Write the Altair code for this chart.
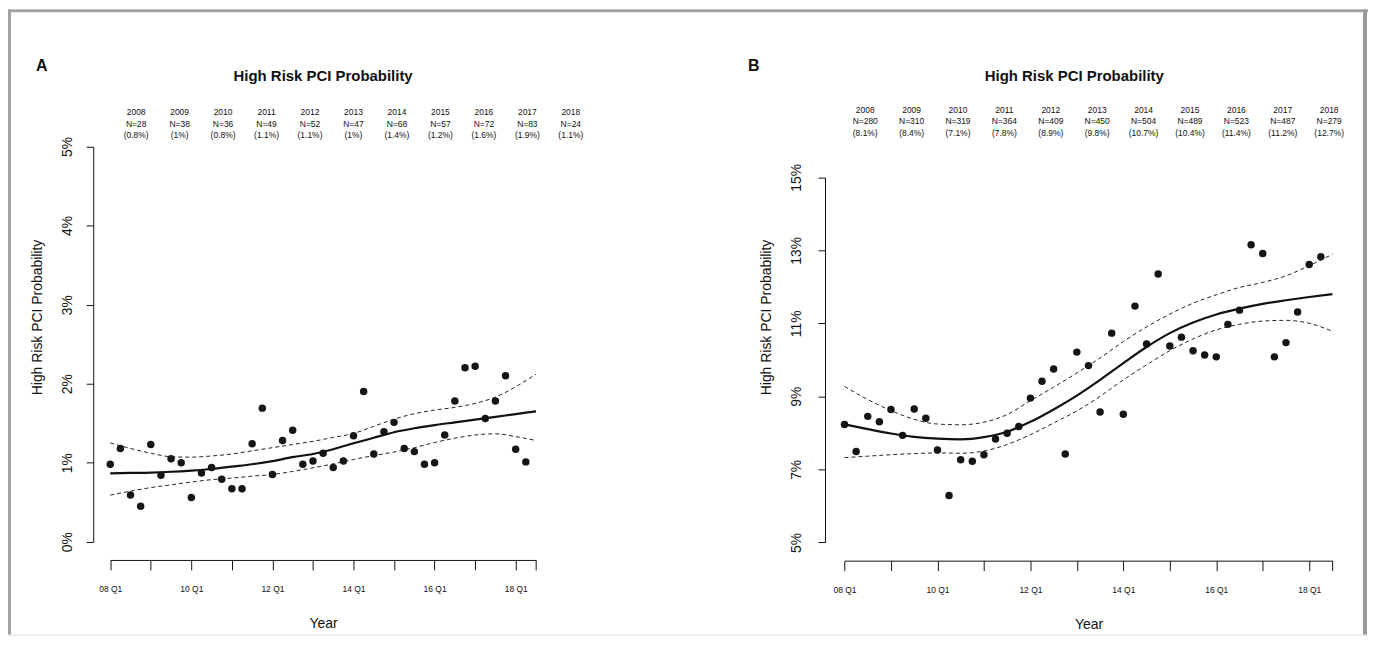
import altair as alt
import pandas as pd

FONT = "Liberation Sans"

# ---------------- data ----------------
quarters = list(range(42))  # 0 = 2008 Q1 ... 41 = 2018 Q2
a_obs = [0.98, 1.18, 0.59, 0.45, 1.23, 0.84, 1.05, 1.00, 0.56, 0.87, 0.94, 0.79,
         0.67, 0.67, 1.24, 1.69, 0.85, 1.28, 1.41, 0.98, 1.02, 1.12, 0.94, 1.02,
         1.34, 1.90, 1.11, 1.39, 1.51, 1.18, 1.14, 0.98, 1.00, 1.35, 1.78, 2.20,
         2.22, 1.56, 1.78, 2.10, 1.17, 1.01]
b_obs = [8.23, 7.49, 8.45, 8.30, 8.64, 7.93, 8.65, 8.40, 7.53, 6.28, 7.26, 7.22,
         7.40, 7.83, 7.99, 8.17, 8.95, 9.41, 9.75, 7.42, 10.21, 9.84, 8.57, 10.73,
         8.51, 11.47, 10.43, 12.35, 10.38, 10.62, 10.25, 10.13, 10.08, 10.97, 11.36, 13.15,
         12.91, 10.08, 10.47, 11.31, 12.61, 12.82]

q_fit = list(range(0, 43, 2))
a_fit = [0.865, 0.87, 0.875, 0.885, 0.90, 0.92, 0.95, 0.98, 1.02, 1.07, 1.11,
         1.17, 1.245, 1.315, 1.385, 1.435, 1.475, 1.51, 1.545, 1.58, 1.615, 1.65]
a_upper = [1.25, 1.18, 1.12, 1.075, 1.07, 1.085, 1.11, 1.15, 1.19, 1.23, 1.27,
           1.32, 1.37, 1.46, 1.55, 1.62, 1.665, 1.70, 1.75, 1.83, 1.96, 2.12]
a_lower = [0.59, 0.64, 0.685, 0.72, 0.755, 0.785, 0.805, 0.83, 0.85, 0.89, 0.935,
           0.985, 1.04, 1.09, 1.135, 1.19, 1.255, 1.31, 1.35, 1.365, 1.33, 1.28]
b_fit = [8.23, 8.10, 7.98, 7.89, 7.84, 7.82, 7.88, 8.03, 8.30, 8.64, 9.02,
         9.45, 9.91, 10.35, 10.73, 11.02, 11.24, 11.40, 11.53, 11.63, 11.72, 11.80]
b_upper = [9.27, 8.91, 8.61, 8.37, 8.24, 8.22, 8.29, 8.50, 8.88, 9.25, 9.64,
           10.05, 10.50, 10.90, 11.25, 11.55, 11.78, 11.98, 12.12, 12.30, 12.58, 12.89]
b_lower = [7.32, 7.36, 7.40, 7.43, 7.45, 7.44, 7.50, 7.68, 7.95, 8.27, 8.60,
           9.00, 9.45, 9.86, 10.25, 10.57, 10.82, 10.97, 11.06, 11.08, 11.00, 10.78]

years = [2008, 2009, 2010, 2011, 2012, 2013, 2014, 2015, 2016, 2017, 2018]
a_n = [28, 38, 36, 49, 52, 47, 68, 57, 72, 83, 24]
a_pct = ["0.8", "1", "0.8", "1.1", "1.1", "1", "1.4", "1.2", "1.6", "1.9", "1.1"]
b_n = [280, 310, 319, 364, 409, 450, 504, 489, 523, 487, 279]
b_pct = ["8.1", "8.4", "7.1", "7.8", "8.9", "9.8", "10.7", "10.4", "11.4", "11.2", "12.7"]

x_tick_values = [0, 4, 8, 12, 16, 20, 24, 28, 32, 36, 40, 42]
x_label_values = [0, 8, 16, 24, 32, 40]
x_tick_labels = ["08 Q1", "10 Q1", "12 Q1", "14 Q1", "16 Q1", "18 Q1"]
a_y_values = [0, 1, 2, 3, 4, 5]
a_y_labels = ["0%", "1%", "2%", "3%", "4%", "5%"]
b_y_values = [5, 7, 9, 11, 13, 15]
b_y_labels = ["5%", "7%", "9%", "11%", "13%", "15%"]

main_title = "High Risk PCI Probability"
y_title = "High Risk PCI Probability"
x_title = "Year"
panel_letters = ["A", "B"]

# ---------------- layout (pixels inside the view) ----------------
W, H = 1366, 628
A_XR = [102.7, 530.3]
A_YR = [534.7, 137.7]
B_XR = [840.2, 1330.3]
B_YR = [535.3, 168.6]


def label_expr(values, labels):
    s = "''"
    for v, l in reversed(list(zip(values, labels))):
        s = f"datum.value == {v} ? '{l}' : ({s})"
    return s


def x_axis(offset):
    return alt.Axis(orient="bottom", offset=offset, values=x_tick_values,
                    labelExpr=label_expr(x_label_values, x_tick_labels),
                    grid=False, tickSize=10, labelPadding=19, labelFontSize=8.5,
                    labelBaseline="middle", labelFlush=False, labelOverlap=False,
                    labelBound=False, title=x_title, titleFontSize=14,
                    titleFontWeight="normal", titleY=64, titleBaseline="middle")


def y_axis(offset, values, labels, title_x, title_y, pad):
    return alt.Axis(orient="left", offset=offset, values=values,
                    labelExpr=label_expr(values, labels), grid=False, tickSize=7,
                    labelAngle=270, labelAlign="center", labelBaseline="middle",
                    labelPadding=pad, labelFontSize=14, labelFlush=False,
                    labelOverlap=False, labelBound=False, title=y_title,
                    titleFontSize=14, titleFontWeight="normal", titleAngle=270,
                    titleX=title_x, titleY=title_y, titleAlign="center",
                    titleBaseline="middle")


def panel(obs, fit, up, lo, xr, yr, ydom, xoff, yax, hdr_df, hdr_range, hdr_y):
    pts_df = pd.DataFrame({"q": quarters, "v": obs})
    fit_df = pd.DataFrame({"q": q_fit, "v": fit})
    ci_df = pd.concat([
        pd.DataFrame({"q": q_fit, "v": up, "s": "upper"}),
        pd.DataFrame({"q": q_fit, "v": lo, "s": "lower"}),
    ])
    xs = alt.Scale(domain=[0, 42], range=xr, nice=False, zero=False)
    ys = alt.Scale(domain=ydom, range=yr, nice=False, zero=False)
    pts = alt.Chart(pts_df).mark_circle(size=56, color="#151515", opacity=1).encode(
        x=alt.X("q:Q", scale=xs, axis=x_axis(xoff)),
        y=alt.Y("v:Q", scale=ys, axis=yax),
    )
    fitl = alt.Chart(fit_df).mark_line(color="#111111", strokeWidth=2.2,
                                       interpolate="monotone").encode(
        x=alt.X("q:Q", scale=xs, axis=None),
        y=alt.Y("v:Q", scale=ys, axis=None),
    )
    cil = alt.Chart(ci_df).mark_line(color="#222222", strokeWidth=1, strokeDash=[4, 3],
                                     interpolate="monotone").encode(
        x=alt.X("q:Q", scale=xs, axis=None),
        y=alt.Y("v:Q", scale=ys, axis=None),
        detail="s:N",
    )
    hdr = alt.Chart(hdr_df).mark_text(fontSize=8.5, lineBreak="\n", lineHeight=11.6,
                                      baseline="middle", align="center",
                                      color="#111111").encode(
        x=alt.X("i:Q", scale=alt.Scale(domain=[0, 10], range=hdr_range, nice=False,
                                       zero=False), axis=None),
        y=alt.value(hdr_y),
        text="t:N",
    )
    return [pts, fitl, cil, hdr]


def headers(ns, pcts):
    return pd.DataFrame({
        "i": list(range(len(years))),
        "t": [f"{y}\nN={n}\n({p}%)" for y, n, p in zip(years, ns, pcts)],
    })


layers_a = panel(a_obs, a_fit, a_upper, a_lower, A_XR, A_YR, [0, 5], -75,
                 y_axis(-85.6, a_y_values, a_y_labels, -55.6, 309, 18.6),
                 headers(a_n, a_pct), [128.7, 565.3], 103.3)
layers_b = panel(b_obs, b_fit, b_upper, b_lower, B_XR, B_YR, [5, 15], -74.3,
                 y_axis(-820.6, b_y_values, b_y_labels, -59, 309, 21.6),
                 headers(b_n, b_pct), [861, 1327], 100.6)

title_layers = [
    alt.Chart(pd.DataFrame({"t": [main_title]})).mark_text(
        fontSize=15, fontWeight="bold", color="#111111").encode(
        x=alt.value(316.5), y=alt.value(67), text="t:N"),
    alt.Chart(pd.DataFrame({"t": [main_title]})).mark_text(
        fontSize=15, fontWeight="bold", color="#111111").encode(
        x=alt.value(1071), y=alt.value(67), text="t:N"),
    alt.Chart(pd.DataFrame({"t": [panel_letters[0]]})).mark_text(
        fontSize=16, fontWeight="bold", color="#111111").encode(
        x=alt.value(34), y=alt.value(57), text="t:N"),
    alt.Chart(pd.DataFrame({"t": [panel_letters[1]]})).mark_text(
        fontSize=16, fontWeight="bold", color="#111111").encode(
        x=alt.value(749), y=alt.value(57), text="t:N"),
]

frame_df = pd.DataFrame({"k": [0]})
frame = [
    alt.Chart(frame_df).mark_rule(color="#a0a0a0", strokeWidth=3).encode(
        x=alt.value(1.5), y=alt.value(0), y2=alt.value(H)),
    alt.Chart(frame_df).mark_rule(color="#a0a0a0", strokeWidth=3).encode(
        x=alt.value(0), x2=alt.value(1366), y=alt.value(1.5)),
    alt.Chart(frame_df).mark_rule(color="#9a9a9a", strokeWidth=4).encode(
        x=alt.value(1363), y=alt.value(0), y2=alt.value(H)),
]

chart = alt.layer(*frame, *layers_a, *layers_b, *title_layers).resolve_scale(
    x="independent", y="independent"
).resolve_axis(x="independent", y="independent").properties(
    width=W, height=H, padding=0, autosize=alt.AutoSizeParams(type="none"),
    background="white",
).configure_view(stroke=None).configure(font=FONT).configure_axis(
    domainColor="#111111", tickColor="#111111", labelColor="#111111",
    titleColor="#111111", labelFont=FONT, titleFont=FONT, domainWidth=1, tickWidth=1,
)

chart.save("out.html", embed_options={"renderer": "svg", "actions": False})
